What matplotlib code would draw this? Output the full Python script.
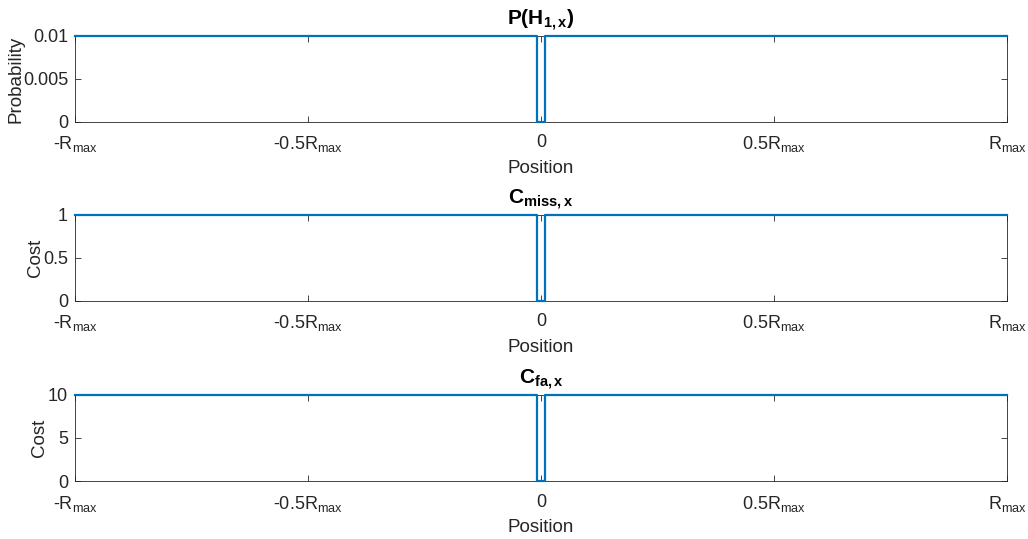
import matplotlib.pyplot as plt

plt.rcParams['font.family'] = ['Liberation Sans', 'DejaVu Sans']
plt.rcParams['mathtext.fontset'] = 'custom'
plt.rcParams['mathtext.rm'] = 'Liberation Sans'
plt.rcParams['mathtext.it'] = 'Liberation Sans'
plt.rcParams['mathtext.bf'] = 'Liberation Sans:bold'

# position in units of R_max, and the step profile of each quantity
position = [-1.0, -0.009, -0.009, 0.009, 0.009, 1.0]
prob_h1 = [0.01, 0.01, 0.0, 0.0, 0.01, 0.01]
cost_miss = [1.0, 1.0, 0.0, 0.0, 1.0, 1.0]
cost_fa = [10.0, 10.0, 0.0, 0.0, 10.0, 10.0]

xtick_pos = [-1, -0.5, 0, 0.5, 1]
xtick_lbl = [r'-R$_{\mathrm{max}}$', r'-0.5R$_{\mathrm{max}}$', '0',
             r'0.5R$_{\mathrm{max}}$', r'R$_{\mathrm{max}}$']

panels = [
    (prob_h1, r'$\mathbf{P(H_{1,x})}$', 'Probability', [0, 0.005, 0.01], ['0', '0.005', '0.01'], 0.7737, -1),
    (cost_miss, r'$\mathbf{C_{miss,x}}$', 'Cost', [0, 0.5, 1], ['0', '0.5', '1'], 0.4416, -0.5),
    (cost_fa, r'$\mathbf{C_{fa,x}}$', 'Cost', [0, 5, 10], ['0', '5', '10'], 0.1076, 0),
]

fig = plt.figure(figsize=(10.28, 5.39), dpi=100)
dark = '#262626'
for vals, title, ylab, yt, ytl, bottom, lpad in panels:
    ax = fig.add_axes([0.073, bottom, 0.9066, 0.1596])
    ax.plot(position, vals, color='#0072BD', lw=1.6, clip_on=False, zorder=3)
    ax.set_xlim(-1, 1)
    ax.set_ylim(yt[0], yt[-1])
    ax.set_xticks(xtick_pos)
    ax.set_xticklabels(xtick_lbl)
    ax.set_yticks(yt)
    ax.set_yticklabels(ytl)
    ax.tick_params(direction='in', length=4, width=0.6, colors=dark,
                   labelsize=13, top=True, right=True)
    ax.tick_params(axis='x', pad=9)
    ax.tick_params(axis='y', pad=5)
    for s in ax.spines.values():
        s.set_color(dark)
        s.set_linewidth(0.6)
    ax.set_title(title, fontsize=15, color='black', pad=8)
    ax.set_xlabel('Position', fontsize=13.5, color=dark, labelpad=4)
    ax.set_ylabel(ylab, fontsize=13.5, color=dark, labelpad=lpad)

fig.savefig('out.png', dpi=100)
